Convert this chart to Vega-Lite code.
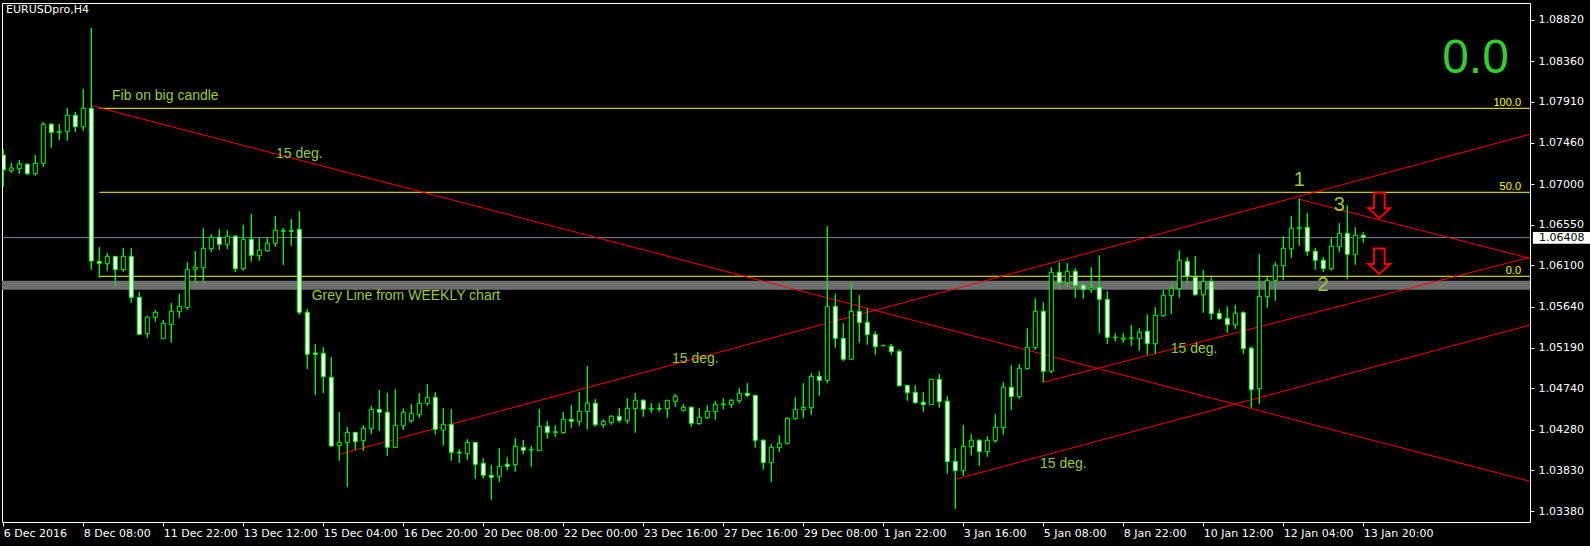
{
  "$schema": "https://vega.github.io/schema/vega-lite/v6.json",
  "autosize": {"type": "none"},
  "padding": {"left": 2, "top": 3, "right": 60, "bottom": 24},
  "width": 1528,
  "height": 519,
  "background": "#000000",
  "config": {
    "view": {"stroke": "#FFFFFF", "strokeWidth": 1},
    "scale": {"continuousPadding": 0},
    "axis": {"grid": false, "domain": false, "title": null, "tickColor": "#FFFFFF", "tickSize": 4, "labelColor": "#FFFFFF", "labelFont": "DejaVu Sans", "labelFontSize": 11, "labelOverlap": false, "labelFlush": false, "labelBound": false}
  },
  "datasets": {
    "band": [{"p": 1.0588}],
    "price": [{"p": 1.06408}],
    "fib": [
      {"lvl": "100.0", "p": 1.0784, "i0": 12, "i1": 190.84},
      {"lvl": "50.0", "p": 1.0691, "i0": 12, "i1": 190.84},
      {"lvl": "0.0", "p": 1.0598, "i0": 12, "i1": 190.84}
    ],
    "trend": [
      {"i0": 11, "p0": 1.07869, "i1": 190.84, "p1": 1.03709},
      {"i0": 42, "p0": 1.04009, "i1": 190.84, "p1": 1.07552},
      {"i0": 130, "p0": 1.04806, "i1": 190.84, "p1": 1.0619},
      {"i0": 119, "p0": 1.03732, "i1": 190.84, "p1": 1.0544},
      {"i0": 162, "p0": 1.06832, "i1": 190.84, "p1": 1.06179}
    ],
    "notes": [
      {"t": "Fib on big candle", "i": 13.59, "p": 1.07976},
      {"t": "Grey Line from WEEKLY chart", "i": 38.55, "p": 1.05762},
      {"t": "15 deg.", "i": 34.09, "p": 1.07334},
      {"t": "15 deg.", "i": 83.59, "p": 1.05064},
      {"t": "15 deg.", "i": 145.93, "p": 1.05175},
      {"t": "15 deg.", "i": 129.59, "p": 1.03901}
    ],
    "digits": [
      {"t": "1", "i": 162, "p": 1.07046},
      {"t": "2", "i": 164.96, "p": 1.05883},
      {"t": "3", "i": 167, "p": 1.06769}
    ],
    "big": [{"t": "0.0", "i": 188.2, "p": 1.08228}],
    "arrows": [{"i": 172, "p": 1.06764}, {"i": 172, "p": 1.06147}],
    "symbol": [{"t": "EURUSDpro,H4", "i": 0.34, "p": 1.08929}],
    "pricebox": [{"t": "1.06408", "i0": 191.2, "i1": 198.6, "it": 191.96, "p": 1.06408, "ptop": 1.06471, "pbot": 1.0634}],
    "candles": [
{"i":0,"o":1.07323,"h":1.07386,"l":1.06972,"c":1.07157},
{"i":1,"o":1.07149,"h":1.07231,"l":1.07127,"c":1.07179},
{"i":2,"o":1.07171,"h":1.07268,"l":1.07113,"c":1.07223},
{"i":3,"o":1.0722,"h":1.07234,"l":1.07101,"c":1.07116},
{"i":4,"o":1.07116,"h":1.07323,"l":1.07094,"c":1.07231},
{"i":5,"o":1.07231,"h":1.07688,"l":1.07193,"c":1.07663},
{"i":6,"o":1.07663,"h":1.07677,"l":1.07404,"c":1.07574},
{"i":7,"o":1.0757,"h":1.07666,"l":1.07489,"c":1.07585},
{"i":8,"o":1.07585,"h":1.07843,"l":1.07481,"c":1.07762},
{"i":9,"o":1.07762,"h":1.07799,"l":1.07577,"c":1.07636},
{"i":10,"o":1.07636,"h":1.08054,"l":1.07592,"c":1.0784},
{"i":11,"o":1.0784,"h":1.08729,"l":1.06049,"c":1.06149},
{"i":12,"o":1.06146,"h":1.06304,"l":1.05964,"c":1.06124},
{"i":13,"o":1.06119,"h":1.06238,"l":1.06042,"c":1.06201},
{"i":14,"o":1.06201,"h":1.06201,"l":1.05875,"c":1.06053},
{"i":15,"o":1.06053,"h":1.06293,"l":1.06031,"c":1.06201},
{"i":16,"o":1.06201,"h":1.06293,"l":1.05687,"c":1.05747},
{"i":17,"o":1.05747,"h":1.05806,"l":1.05335,"c":1.05337},
{"i":18,"o":1.05344,"h":1.05543,"l":1.053,"c":1.05529},
{"i":19,"o":1.05526,"h":1.05607,"l":1.05477,"c":1.05581},
{"i":20,"o":1.05289,"h":1.05496,"l":1.05287,"c":1.05459},
{"i":21,"o":1.05448,"h":1.05684,"l":1.05245,"c":1.05592},
{"i":22,"o":1.05588,"h":1.05784,"l":1.05521,"c":1.05647},
{"i":23,"o":1.05632,"h":1.06135,"l":1.0561,"c":1.06057},
{"i":24,"o":1.06057,"h":1.0626,"l":1.05898,"c":1.06079},
{"i":25,"o":1.06075,"h":1.06511,"l":1.05898,"c":1.0629},
{"i":26,"o":1.06285,"h":1.06448,"l":1.06252,"c":1.06412},
{"i":27,"o":1.06412,"h":1.065,"l":1.06271,"c":1.06334},
{"i":28,"o":1.06334,"h":1.06489,"l":1.06282,"c":1.06423},
{"i":29,"o":1.06423,"h":1.06437,"l":1.06031,"c":1.06064},
{"i":30,"o":1.06064,"h":1.06548,"l":1.06042,"c":1.0639},
{"i":31,"o":1.0639,"h":1.0667,"l":1.06141,"c":1.06212},
{"i":32,"o":1.06208,"h":1.06407,"l":1.06153,"c":1.06268},
{"i":33,"o":1.06263,"h":1.06404,"l":1.06252,"c":1.06345},
{"i":34,"o":1.06345,"h":1.06647,"l":1.06307,"c":1.06489},
{"i":35,"o":1.06478,"h":1.06515,"l":1.06105,"c":1.06485},
{"i":36,"o":1.06485,"h":1.06614,"l":1.06315,"c":1.06478},
{"i":37,"o":1.065,"h":1.06703,"l":1.05554,"c":1.05581},
{"i":38,"o":1.05581,"h":1.05618,"l":1.04953,"c":1.05116},
{"i":39,"o":1.0513,"h":1.0523,"l":1.04665,"c":1.05116},
{"i":40,"o":1.05127,"h":1.05197,"l":1.04687,"c":1.04868},
{"i":41,"o":1.04861,"h":1.05086,"l":1.04093,"c":1.04101},
{"i":42,"o":1.04104,"h":1.04477,"l":1.03938,"c":1.04141},
{"i":43,"o":1.04137,"h":1.04311,"l":1.0365,"c":1.04252},
{"i":44,"o":1.04252,"h":1.04255,"l":1.04056,"c":1.04148},
{"i":45,"o":1.04159,"h":1.0433,"l":1.04048,"c":1.04296},
{"i":46,"o":1.04292,"h":1.04543,"l":1.04237,"c":1.04507},
{"i":47,"o":1.04507,"h":1.04721,"l":1.0427,"c":1.04474},
{"i":48,"o":1.04474,"h":1.04684,"l":1.03993,"c":1.04086},
{"i":49,"o":1.04086,"h":1.04728,"l":1.04084,"c":1.0433},
{"i":50,"o":1.04325,"h":1.04514,"l":1.04281,"c":1.04474},
{"i":51,"o":1.04381,"h":1.04562,"l":1.04355,"c":1.04463},
{"i":52,"o":1.04447,"h":1.04684,"l":1.04411,"c":1.04574},
{"i":53,"o":1.04574,"h":1.04784,"l":1.04547,"c":1.0464},
{"i":54,"o":1.0464,"h":1.04695,"l":1.0423,"c":1.04286},
{"i":55,"o":1.04275,"h":1.04518,"l":1.04104,"c":1.04341},
{"i":56,"o":1.04341,"h":1.04507,"l":1.03935,"c":1.04031},
{"i":57,"o":1.04031,"h":1.04064,"l":1.03916,"c":1.04023},
{"i":58,"o":1.04015,"h":1.04175,"l":1.03949,"c":1.04141},
{"i":59,"o":1.04141,"h":1.04144,"l":1.03739,"c":1.03898},
{"i":60,"o":1.03909,"h":1.03964,"l":1.03739,"c":1.03776},
{"i":61,"o":1.03776,"h":1.03887,"l":1.03506,"c":1.03754},
{"i":62,"o":1.03765,"h":1.04075,"l":1.03705,"c":1.03876},
{"i":63,"o":1.03898,"h":1.03975,"l":1.03832,"c":1.03876},
{"i":64,"o":1.03893,"h":1.04189,"l":1.03816,"c":1.04097},
{"i":65,"o":1.04086,"h":1.04167,"l":1.04009,"c":1.04053},
{"i":66,"o":1.04056,"h":1.04101,"l":1.03871,"c":1.04064},
{"i":67,"o":1.04048,"h":1.0451,"l":1.04046,"c":1.04319},
{"i":68,"o":1.04319,"h":1.04378,"l":1.04182,"c":1.04248},
{"i":69,"o":1.04248,"h":1.0433,"l":1.04204,"c":1.04259},
{"i":70,"o":1.04248,"h":1.04477,"l":1.04237,"c":1.04396},
{"i":71,"o":1.04396,"h":1.04555,"l":1.04303,"c":1.04374},
{"i":72,"o":1.04374,"h":1.04699,"l":1.04325,"c":1.04485},
{"i":73,"o":1.04485,"h":1.04986,"l":1.04281,"c":1.04574},
{"i":74,"o":1.04574,"h":1.04618,"l":1.04314,"c":1.04336},
{"i":75,"o":1.04336,"h":1.04396,"l":1.04303,"c":1.04374},
{"i":76,"o":1.04359,"h":1.04441,"l":1.04336,"c":1.0443},
{"i":77,"o":1.0443,"h":1.04521,"l":1.04359,"c":1.04385},
{"i":78,"o":1.04381,"h":1.04632,"l":1.04348,"c":1.04518},
{"i":79,"o":1.04514,"h":1.04687,"l":1.04248,"c":1.04607},
{"i":80,"o":1.04607,"h":1.04618,"l":1.04425,"c":1.04507},
{"i":81,"o":1.04507,"h":1.04574,"l":1.04469,"c":1.04518},
{"i":82,"o":1.04518,"h":1.04574,"l":1.0448,"c":1.0451},
{"i":83,"o":1.04514,"h":1.0461,"l":1.04414,"c":1.04607},
{"i":84,"o":1.04596,"h":1.04676,"l":1.04536,"c":1.04651},
{"i":85,"o":1.04496,"h":1.04562,"l":1.04485,"c":1.04529},
{"i":86,"o":1.04529,"h":1.0454,"l":1.04314,"c":1.04352},
{"i":87,"o":1.04348,"h":1.04521,"l":1.04336,"c":1.04418},
{"i":88,"o":1.04414,"h":1.04551,"l":1.04403,"c":1.04485},
{"i":89,"o":1.04485,"h":1.04596,"l":1.04392,"c":1.04562},
{"i":90,"o":1.04558,"h":1.04629,"l":1.04507,"c":1.04566},
{"i":91,"o":1.04562,"h":1.04618,"l":1.04525,"c":1.04607},
{"i":92,"o":1.04602,"h":1.0474,"l":1.04574,"c":1.04684},
{"i":93,"o":1.04684,"h":1.04795,"l":1.0464,"c":1.04662},
{"i":94,"o":1.04662,"h":1.04665,"l":1.04082,"c":1.04164},
{"i":95,"o":1.04164,"h":1.04175,"l":1.03838,"c":1.03916},
{"i":96,"o":1.03916,"h":1.04119,"l":1.03705,"c":1.04086},
{"i":97,"o":1.04082,"h":1.04219,"l":1.04034,"c":1.04131},
{"i":98,"o":1.04131,"h":1.04418,"l":1.04119,"c":1.04407},
{"i":99,"o":1.04403,"h":1.0464,"l":1.04392,"c":1.04507},
{"i":100,"o":1.04503,"h":1.04795,"l":1.04414,"c":1.04529},
{"i":101,"o":1.04525,"h":1.04906,"l":1.04447,"c":1.04872},
{"i":102,"o":1.04872,"h":1.04928,"l":1.04658,"c":1.04828},
{"i":103,"o":1.04828,"h":1.06537,"l":1.04795,"c":1.05647},
{"i":104,"o":1.05647,"h":1.0578,"l":1.05189,"c":1.05293},
{"i":105,"o":1.05293,"h":1.05459,"l":1.05039,"c":1.05061},
{"i":106,"o":1.05061,"h":1.05913,"l":1.05059,"c":1.05592},
{"i":107,"o":1.05592,"h":1.05773,"l":1.05245,"c":1.05466},
{"i":108,"o":1.0547,"h":1.05625,"l":1.05222,"c":1.05333},
{"i":109,"o":1.05337,"h":1.05371,"l":1.05112,"c":1.052},
{"i":110,"o":1.05211,"h":1.05219,"l":1.05208,"c":1.05216},
{"i":111,"o":1.05205,"h":1.0523,"l":1.05112,"c":1.05145},
{"i":112,"o":1.05149,"h":1.05171,"l":1.04757,"c":1.04768},
{"i":113,"o":1.04773,"h":1.04775,"l":1.04602,"c":1.04691},
{"i":114,"o":1.04695,"h":1.04773,"l":1.04569,"c":1.0458},
{"i":115,"o":1.04585,"h":1.04695,"l":1.0448,"c":1.04558},
{"i":116,"o":1.04558,"h":1.04841,"l":1.04556,"c":1.04839},
{"i":117,"o":1.04839,"h":1.04898,"l":1.04525,"c":1.04591},
{"i":118,"o":1.04596,"h":1.04651,"l":1.03794,"c":1.03927},
{"i":119,"o":1.03931,"h":1.04079,"l":1.03403,"c":1.03827},
{"i":120,"o":1.03827,"h":1.0433,"l":1.03772,"c":1.04097},
{"i":121,"o":1.04093,"h":1.0423,"l":1.03998,"c":1.04164},
{"i":122,"o":1.04164,"h":1.04175,"l":1.03883,"c":1.04038},
{"i":123,"o":1.04038,"h":1.04208,"l":1.03982,"c":1.04164},
{"i":124,"o":1.04159,"h":1.04452,"l":1.04137,"c":1.04308},
{"i":125,"o":1.04303,"h":1.04806,"l":1.04226,"c":1.04751},
{"i":126,"o":1.04751,"h":1.04994,"l":1.04503,"c":1.04647},
{"i":127,"o":1.04647,"h":1.05005,"l":1.04624,"c":1.04961},
{"i":128,"o":1.04957,"h":1.05404,"l":1.04945,"c":1.05194},
{"i":129,"o":1.05189,"h":1.05736,"l":1.05167,"c":1.05592},
{"i":130,"o":1.05592,"h":1.05692,"l":1.04806,"c":1.04928},
{"i":131,"o":1.04928,"h":1.06079,"l":1.04906,"c":1.06024},
{"i":132,"o":1.06024,"h":1.06135,"l":1.05836,"c":1.05913},
{"i":133,"o":1.05909,"h":1.06124,"l":1.05865,"c":1.06035},
{"i":134,"o":1.06035,"h":1.06068,"l":1.05743,"c":1.0588},
{"i":135,"o":1.0588,"h":1.05902,"l":1.05732,"c":1.05836},
{"i":136,"o":1.05836,"h":1.06079,"l":1.05798,"c":1.05858},
{"i":137,"o":1.05858,"h":1.06212,"l":1.05344,"c":1.05725},
{"i":138,"o":1.05725,"h":1.05814,"l":1.05233,"c":1.05304},
{"i":139,"o":1.053,"h":1.05349,"l":1.0526,"c":1.05304},
{"i":140,"o":1.05282,"h":1.05352,"l":1.05245,"c":1.05297},
{"i":141,"o":1.05289,"h":1.0544,"l":1.05211,"c":1.05297},
{"i":142,"o":1.05289,"h":1.05404,"l":1.05156,"c":1.0536},
{"i":143,"o":1.05371,"h":1.05559,"l":1.05112,"c":1.05233},
{"i":144,"o":1.05233,"h":1.05636,"l":1.05123,"c":1.05548},
{"i":145,"o":1.05543,"h":1.05825,"l":1.05532,"c":1.0577},
{"i":146,"o":1.05765,"h":1.0588,"l":1.05566,"c":1.05847},
{"i":147,"o":1.05842,"h":1.06268,"l":1.05743,"c":1.06157},
{"i":148,"o":1.06146,"h":1.0619,"l":1.05895,"c":1.0598},
{"i":149,"o":1.05969,"h":1.06205,"l":1.05765,"c":1.05776},
{"i":150,"o":1.05776,"h":1.06049,"l":1.05577,"c":1.05924},
{"i":151,"o":1.05924,"h":1.05969,"l":1.05499,"c":1.05566},
{"i":152,"o":1.0557,"h":1.05614,"l":1.05499,"c":1.0551},
{"i":153,"o":1.05515,"h":1.05647,"l":1.05355,"c":1.05444},
{"i":154,"o":1.05444,"h":1.05662,"l":1.054,"c":1.0557},
{"i":155,"o":1.05577,"h":1.05592,"l":1.05123,"c":1.05178},
{"i":156,"o":1.05183,"h":1.05205,"l":1.04525,"c":1.04724},
{"i":157,"o":1.04735,"h":1.06223,"l":1.04569,"c":1.05758},
{"i":158,"o":1.05754,"h":1.05969,"l":1.05632,"c":1.05935},
{"i":159,"o":1.05935,"h":1.06135,"l":1.0571,"c":1.06102},
{"i":160,"o":1.06097,"h":1.06423,"l":1.05942,"c":1.0629},
{"i":161,"o":1.06285,"h":1.06644,"l":1.06186,"c":1.06511},
{"i":162,"o":1.06507,"h":1.06843,"l":1.06319,"c":1.06522},
{"i":163,"o":1.06522,"h":1.06677,"l":1.06208,"c":1.06257},
{"i":164,"o":1.06257,"h":1.0629,"l":1.06053,"c":1.06157},
{"i":165,"o":1.06157,"h":1.0619,"l":1.06031,"c":1.06064},
{"i":166,"o":1.06064,"h":1.064,"l":1.06042,"c":1.06312},
{"i":167,"o":1.06307,"h":1.06567,"l":1.06246,"c":1.06456},
{"i":168,"o":1.06456,"h":1.06766,"l":1.05953,"c":1.06223},
{"i":169,"o":1.06223,"h":1.06522,"l":1.06108,"c":1.06434},
{"i":170,"o":1.06434,"h":1.06467,"l":1.06352,"c":1.06408}
    ]
  },
  "layer": [
    {
      "data": {"name": "candles"},
      "mark": {"type": "rule", "color": "#00FF00", "strokeWidth": 1, "clip": true},
      "encoding": {
        "x": {"field": "i", "type": "quantitative", "title": null, "scale": {"domain": [-0.1625, 190.8375], "nice": false, "zero": false, "padding": 0},
          "axis": {"orient": "bottom", "values": [0,10,20,30,40,50,60,70,80,90,100,110,120,130,140,150,160,170], "labelAlign": "left", "labelPadding": 1,
            "labelExpr": "['6 Dec 2016','8 Dec 08:00','11 Dec 22:00','13 Dec 12:00','15 Dec 04:00','16 Dec 20:00','20 Dec 08:00','22 Dec 00:00','23 Dec 16:00','27 Dec 16:00','29 Dec 08:00','1 Jan 22:00','3 Jan 16:00','5 Jan 08:00','8 Jan 22:00','10 Jan 12:00','12 Jan 04:00','13 Jan 20:00'][round(datum.value/10)]"}},
        "y": {"field": "l", "type": "quantitative", "title": null, "scale": {"domain": [1.03259, 1.09006], "nice": false, "zero": false, "padding": 0},
          "axis": {"orient": "right", "values": [1.0882, 1.0836, 1.0791, 1.0746, 1.07, 1.0655, 1.061, 1.0564, 1.0519, 1.0474, 1.0428, 1.0383, 1.0338], "format": ".5f", "labelPadding": 4}},
        "y2": {"field": "h"}
      }
    },
    {
      "data": {"name": "band"},
      "mark": {"type": "rule", "color": "#6e6e6e", "strokeWidth": 9},
      "encoding": {
        "y": {"field": "p", "type": "quantitative", "title": null, "scale": {"domain": [1.03259, 1.09006], "nice": false, "zero": false, "padding": 0}}
      }
    },
    {
      "data": {"name": "price"},
      "mark": {"type": "rule", "color": "#778899", "strokeWidth": 1},
      "encoding": {
        "y": {"field": "p", "type": "quantitative", "title": null, "scale": {"domain": [1.03259, 1.09006], "nice": false, "zero": false, "padding": 0}}
      }
    },
    {
      "data": {"name": "fib"},
      "mark": {"type": "rule", "color": "#FFFF00", "strokeWidth": 1},
      "encoding": {
        "x": {"field": "i0", "type": "quantitative", "title": null, "scale": {"domain": [-0.1625, 190.8375], "nice": false, "zero": false, "padding": 0}},
        "x2": {"field": "i1"},
        "y": {"field": "p", "type": "quantitative", "title": null, "scale": {"domain": [1.03259, 1.09006], "nice": false, "zero": false, "padding": 0}}
      }
    },
    {
      "data": {"name": "fib"},
      "mark": {"type": "text", "color": "#FFFF00", "font": "Liberation Sans Narrow, Liberation Sans", "fontSize": 11, "align": "right", "baseline": "alphabetic", "dx": -9, "dy": -2},
      "encoding": {
        "x": {"field": "i1", "type": "quantitative", "title": null, "scale": {"domain": [-0.1625, 190.8375], "nice": false, "zero": false, "padding": 0}},
        "y": {"field": "p", "type": "quantitative", "title": null, "scale": {"domain": [1.03259, 1.09006], "nice": false, "zero": false, "padding": 0}},
        "text": {"field": "lvl"}
      }
    },
    {
      "data": {"name": "trend"},
      "mark": {"type": "rule", "color": "#FF0000", "strokeWidth": 1, "clip": true},
      "encoding": {
        "x": {"field": "i0", "type": "quantitative", "title": null, "scale": {"domain": [-0.1625, 190.8375], "nice": false, "zero": false, "padding": 0}},
        "x2": {"field": "i1"},
        "y": {"field": "p0", "type": "quantitative", "title": null, "scale": {"domain": [1.03259, 1.09006], "nice": false, "zero": false, "padding": 0}},
        "y2": {"field": "p1"}
      }
    },
    {
      "data": {"name": "candles"},
      "mark": {"type": "rule", "color": "#00FF00", "strokeWidth": 1, "clip": true},
      "encoding": {
        "x": {"field": "i", "type": "quantitative", "title": null, "scale": {"domain": [-0.1625, 190.8375], "nice": false, "zero": false, "padding": 0}},
        "y": {"field": "l", "type": "quantitative", "title": null, "scale": {"domain": [1.03259, 1.09006], "nice": false, "zero": false, "padding": 0}},
        "y2": {"field": "h"}
      }
    },
    {
      "data": {"name": "candles"},
      "mark": {"type": "bar", "width": 4, "stroke": "#00FF00", "strokeWidth": 1, "opacity": 1, "clip": true},
      "encoding": {
        "x": {"field": "i", "type": "quantitative", "title": null, "scale": {"domain": [-0.1625, 190.8375], "nice": false, "zero": false, "padding": 0}},
        "y": {"field": "o", "type": "quantitative", "title": null, "scale": {"domain": [1.03259, 1.09006], "nice": false, "zero": false, "padding": 0}},
        "y2": {"field": "c"},
        "fill": {"condition": {"test": "datum.c < datum.o", "value": "#FFFFFF"}, "value": "#000000"}
      }
    },
    {
      "data": {"name": "notes"},
      "mark": {"type": "text", "color": "#9ACD32", "font": "Liberation Sans", "fontSize": 14, "align": "left", "baseline": "middle"},
      "encoding": {
        "x": {"field": "i", "type": "quantitative", "title": null, "scale": {"domain": [-0.1625, 190.8375], "nice": false, "zero": false, "padding": 0}},
        "y": {"field": "p", "type": "quantitative", "title": null, "scale": {"domain": [1.03259, 1.09006], "nice": false, "zero": false, "padding": 0}},
        "text": {"field": "t"}
      }
    },
    {
      "data": {"name": "digits"},
      "mark": {"type": "text", "color": "#9ACD32", "font": "Liberation Sans", "fontSize": 20, "align": "center", "baseline": "middle"},
      "encoding": {
        "x": {"field": "i", "type": "quantitative", "title": null, "scale": {"domain": [-0.1625, 190.8375], "nice": false, "zero": false, "padding": 0}},
        "y": {"field": "p", "type": "quantitative", "title": null, "scale": {"domain": [1.03259, 1.09006], "nice": false, "zero": false, "padding": 0}},
        "text": {"field": "t"}
      }
    },
    {
      "data": {"name": "big"},
      "mark": {"type": "text", "color": "#32CD32", "font": "Liberation Sans", "fontSize": 48, "align": "right", "baseline": "alphabetic"},
      "encoding": {
        "x": {"field": "i", "type": "quantitative", "title": null, "scale": {"domain": [-0.1625, 190.8375], "nice": false, "zero": false, "padding": 0}},
        "y": {"field": "p", "type": "quantitative", "title": null, "scale": {"domain": [1.03259, 1.09006], "nice": false, "zero": false, "padding": 0}},
        "text": {"field": "t"}
      }
    },
    {
      "data": {"name": "arrows"},
      "mark": {"type": "point", "shape": "M-0.42,-1L0.42,-1L0.42,0.22L0.85,0.22L0,1L-0.85,0.22L-0.42,0.22Z", "size": 655, "filled": false, "stroke": "#FF0000", "strokeWidth": 2, "opacity": 1},
      "encoding": {
        "x": {"field": "i", "type": "quantitative", "title": null, "scale": {"domain": [-0.1625, 190.8375], "nice": false, "zero": false, "padding": 0}},
        "y": {"field": "p", "type": "quantitative", "title": null, "scale": {"domain": [1.03259, 1.09006], "nice": false, "zero": false, "padding": 0}}
      }
    },
    {
      "data": {"name": "symbol"},
      "mark": {"type": "text", "color": "#FFFFFF", "font": "DejaVu Sans", "fontSize": 11, "align": "left", "baseline": "middle"},
      "encoding": {
        "x": {"field": "i", "type": "quantitative", "title": null, "scale": {"domain": [-0.1625, 190.8375], "nice": false, "zero": false, "padding": 0}},
        "y": {"field": "p", "type": "quantitative", "title": null, "scale": {"domain": [1.03259, 1.09006], "nice": false, "zero": false, "padding": 0}},
        "text": {"field": "t"}
      }
    },
    {
      "data": {"name": "pricebox"},
      "mark": {"type": "rect", "color": "#FFFFFF", "clip": false},
      "encoding": {
        "x": {"field": "i0", "type": "quantitative", "title": null, "scale": {"domain": [-0.1625, 190.8375], "nice": false, "zero": false, "padding": 0}},
        "x2": {"field": "i1"},
        "y": {"field": "ptop", "type": "quantitative", "title": null, "scale": {"domain": [1.03259, 1.09006], "nice": false, "zero": false, "padding": 0}},
        "y2": {"field": "pbot"}
      }
    },
    {
      "data": {"name": "pricebox"},
      "mark": {"type": "text", "color": "#000000", "font": "DejaVu Sans", "fontSize": 11, "align": "left", "baseline": "middle"},
      "encoding": {
        "x": {"field": "it", "type": "quantitative", "title": null, "scale": {"domain": [-0.1625, 190.8375], "nice": false, "zero": false, "padding": 0}},
        "y": {"field": "p", "type": "quantitative", "title": null, "scale": {"domain": [1.03259, 1.09006], "nice": false, "zero": false, "padding": 0}},
        "text": {"field": "t"}
      }
    }
  ]
}
